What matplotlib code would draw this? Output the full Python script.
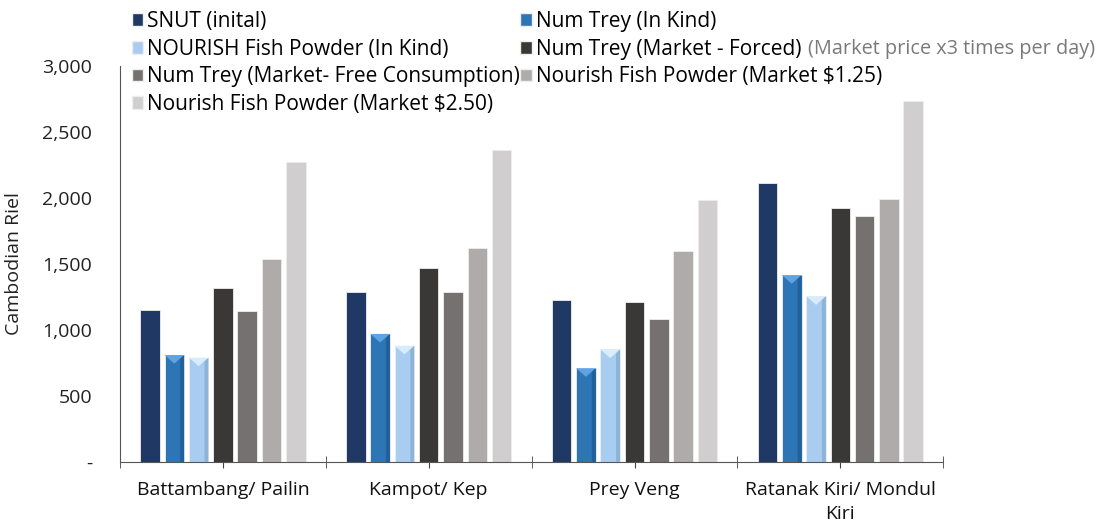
import numpy as np
import matplotlib
matplotlib.use('Agg')
import matplotlib.pyplot as plt
from matplotlib.patches import Polygon, Patch
from matplotlib.ticker import FuncFormatter

plt.rcParams['font.family'] = ['Open Sans', 'DejaVu Sans']

regions = ['Battambang/ Pailin', 'Kampot/ Kep', 'Prey Veng', 'Ratanak Kiri/ Mondul\nKiri']
series = ['SNUT (inital)', 'Num Trey (In Kind)', 'NOURISH Fish Powder (In Kind)',
          'Num Trey (Market - Forced)', 'Num Trey (Market- Free Consumption)',
          'Nourish Fish Powder (Market $1.25)', 'Nourish Fish Powder (Market $2.50)']
snut = [1150, 1290, 1225, 2110]
numtrey_kind = [810, 970, 710, 1415]
nourish_kind = [790, 880, 852, 1255]
numtrey_forced = [1320, 1470, 1210, 1920]
numtrey_free = [1140, 1290, 1085, 1862]
nourish_125 = [1535, 1620, 1597, 1995]
nourish_250 = [2270, 2365, 1985, 2737]
values = [snut, numtrey_kind, nourish_kind, numtrey_forced, numtrey_free, nourish_125, nourish_250]
colors = ['#1f3864', '#2e75b6', '#a9cdf0', '#3a3836', '#767171', '#afabaa', '#d0cece']
bevel_top = {1: '#5ea3e6', 2: '#d8ecff'}
bevel_side = {1: '#22609a', 2: '#8db3d6'}
note = '(Market price x3 times per day)'

fig = plt.figure(figsize=(11.11, 5.31), dpi=100)
ax = fig.add_axes([0.108, 0.130, 0.741, 0.746])

x = np.arange(len(regions))
step = 0.118
width = 0.095
handles = []
for i, (name, vals) in enumerate(zip(series, values)):
    bars = ax.bar(x + (i - 3) * step, vals, width, color=colors[i],
                  edgecolor='#eeeeee', linewidth=0.6, label=name, zorder=2)
    if i in bevel_top:
        for b in bars:
            x0, w, h = b.get_x(), b.get_width(), b.get_height()
            ax.add_patch(Polygon([[x0, h], [x0 + w, h], [x0 + w / 2, h - 65]],
                                 closed=True, facecolor=bevel_top[i], edgecolor='none', zorder=3))
            ax.add_patch(Polygon([[x0 + w * 0.8, 0], [x0 + w, 0], [x0 + w, h], [x0 + w * 0.8, h - 30]],
                                 closed=True, facecolor=bevel_side[i], edgecolor='none', zorder=3))
    handles.append(Patch(facecolor=colors[i], edgecolor='#eeeeee'))

ax.set_xlim(-0.5, len(regions) - 0.5)
ax.set_ylim(0, 3000)
ax.set_yticks(np.arange(0, 3001, 500))
ax.yaxis.set_major_formatter(FuncFormatter(lambda v, p: '-' if v == 0 else f'{v:,.0f}'))
ax.tick_params(axis='y', length=0, labelsize=14, pad=20, colors='#222222')
ax.set_xticks(x)
ax.set_xticklabels(regions, fontsize=14, color='#111111', linespacing=1.45)
ax.set_xticks(np.arange(-0.5, len(regions), 1.0), minor=True)
ax.tick_params(axis='x', which='both', direction='inout', length=9, color='#444444')
ax.tick_params(axis='x', which='major', pad=9)
ax.set_ylabel('Cambodian Riel', fontsize=14, labelpad=14, color='#222222')
for s in ['top', 'right']:
    ax.spines[s].set_visible(False)
for s in ['left', 'bottom']:
    ax.spines[s].set_color('#555555')

order = [0, 2, 4, 6, 1, 3, 5]
leg = fig.legend([handles[k] for k in order], [series[k] for k in order], ncol=2,
                 loc='upper left', bbox_to_anchor=(0.111, 0.995), frameon=False,
                 fontsize=15, handlelength=0.55, handleheight=0.55, handletextpad=0.2,
                 columnspacing=0.0, labelspacing=0.32, borderaxespad=0)

fig.canvas.draw()
r = fig.canvas.get_renderer()
for t in leg.get_texts():
    if t.get_text() == series[3]:
        bb = t.get_window_extent(r).transformed(fig.transFigure.inverted())
        fig.text(bb.x1 + 0.006, (bb.y0 + bb.y1) / 2, note, fontsize=14.3, color='#7a7a7a',
                 va='center', ha='left')

fig.savefig('out.png', dpi=100)
